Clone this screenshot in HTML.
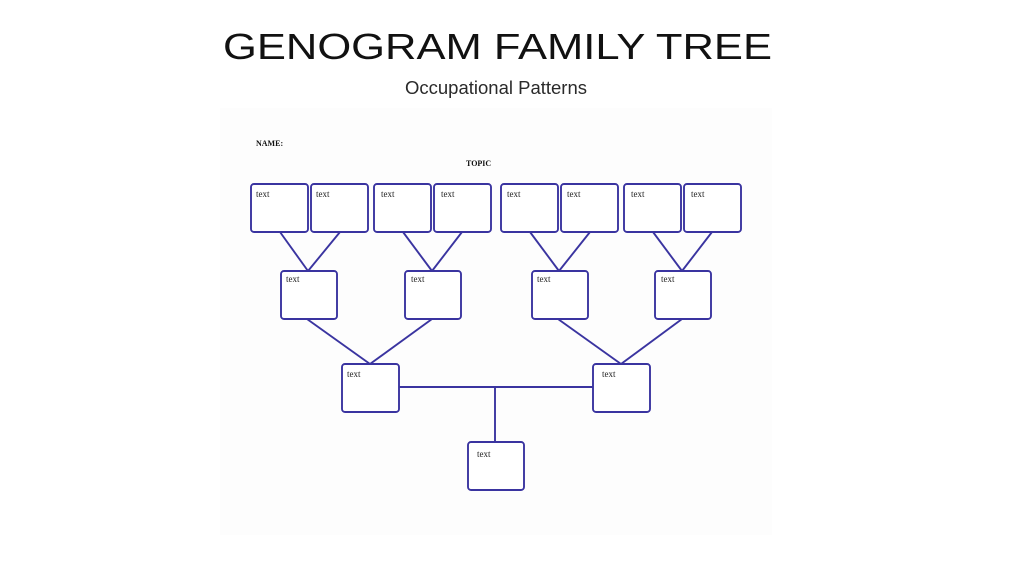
<!DOCTYPE html>
<html><head><meta charset="utf-8"><style>
html,body{margin:0;padding:0;background:#fff;}
svg{display:block;}
</style></head><body>
<svg width="1024" height="576" viewBox="0 0 1024 576" xmlns="http://www.w3.org/2000/svg">
<rect width="1024" height="576" fill="#fff"/>
<text x="223" y="59" font-family="Liberation Sans, sans-serif" font-size="36" fill="#111" textLength="549" lengthAdjust="spacingAndGlyphs">GENOGRAM FAMILY TREE</text>
<text x="496" y="94" font-family="Liberation Sans, sans-serif" font-size="18.5" fill="#2a2a2a" text-anchor="middle">Occupational Patterns</text>
<rect x="220" y="108" width="552" height="427" fill="#fdfdfd"/>
<text x="256" y="146" font-family="Liberation Serif, serif" font-size="8" font-weight="bold" fill="#111">NAME:</text>
<text x="466" y="166" font-family="Liberation Serif, serif" font-size="8" font-weight="bold" fill="#111">TOPIC</text>
<g fill="none" stroke="#3a34a0" stroke-width="1.9">
<line x1="280" y1="232" x2="308" y2="271"/><line x1="340" y1="232" x2="308" y2="271"/>
<line x1="403" y1="232" x2="432" y2="271"/><line x1="462" y1="232" x2="432" y2="271"/>
<line x1="530" y1="232" x2="559" y2="271"/><line x1="590" y1="232" x2="559" y2="271"/>
<line x1="653" y1="232" x2="682" y2="271"/><line x1="712" y1="232" x2="682" y2="271"/>
<line x1="307" y1="319" x2="370" y2="364"/><line x1="432" y1="319" x2="370" y2="364"/>
<line x1="558" y1="319" x2="621" y2="364"/><line x1="682" y1="319" x2="621" y2="364"/>
<line x1="399" y1="387" x2="593" y2="387"/><line x1="495" y1="387" x2="495" y2="442"/>
<g fill="#fff">
<rect x="251" y="184" width="57" height="48" rx="3"/><rect x="311" y="184" width="57" height="48" rx="3"/>
<rect x="374" y="184" width="57" height="48" rx="3"/><rect x="434" y="184" width="57" height="48" rx="3"/>
<rect x="501" y="184" width="57" height="48" rx="3"/><rect x="561" y="184" width="57" height="48" rx="3"/>
<rect x="624" y="184" width="57" height="48" rx="3"/><rect x="684" y="184" width="57" height="48" rx="3"/>
<rect x="281" y="271" width="56" height="48" rx="3"/><rect x="405" y="271" width="56" height="48" rx="3"/>
<rect x="532" y="271" width="56" height="48" rx="3"/><rect x="655" y="271" width="56" height="48" rx="3"/>
<rect x="342" y="364" width="57" height="48" rx="3"/><rect x="593" y="364" width="57" height="48" rx="3"/>
<rect x="468" y="442" width="56" height="48" rx="3"/>
</g></g>
<g font-family="Liberation Serif, serif" font-size="9" fill="#222">
<text x="256" y="197">text</text><text x="316" y="197">text</text><text x="381" y="197">text</text><text x="441" y="197">text</text>
<text x="507" y="197">text</text><text x="567" y="197">text</text><text x="631" y="197">text</text><text x="691" y="197">text</text>
<text x="286" y="282">text</text><text x="411" y="282">text</text><text x="537" y="282">text</text><text x="661" y="282">text</text>
<text x="347" y="377">text</text><text x="602" y="377">text</text><text x="477" y="457">text</text>
</g>
</svg>
</body></html>
